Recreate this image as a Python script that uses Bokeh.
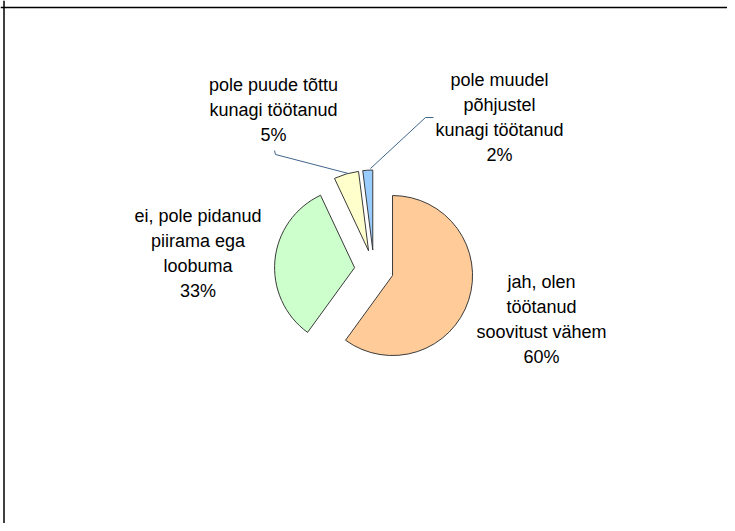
import numpy as np
from bokeh.plotting import figure
from bokeh.models import ColumnDataSource, Range1d, Span
from bokeh.core.properties import value
from bokeh.embed import file_html
from bokeh.resources import INLINE

# ---- data ----
categories = [
    "jah, olen\ntöötanud\nsoovitust vähem",
    "ei, pole pidanud\npiirama ega\nloobuma",
    "pole puude tõttu\nkunagi töötanud",
    "pole muudel\npõhjustel\nkunagi töötanud",
]
shares = [60, 33, 5, 2]
colors = ["#FFCC99", "#CCFFCC", "#FFFFCC", "#99CCFF"]

# ---- layout ----
W, H = 727, 523


def px(x):
    return x


def py(y):
    return H - y


p = figure(width=W, height=H, x_range=Range1d(0, W), y_range=Range1d(0, H),
           output_backend="svg", toolbar_location=None, min_border=0,
           x_axis_location=None, y_axis_location=None, outline_line_color=None)
p.xgrid.visible = False
p.ygrid.visible = False
p.background_fill_color = "white"
p.border_fill_color = "white"

cx, cy = px(373.5), py(269)
R = 80
explode = 19.5

frac = np.array(shares, dtype=float) / sum(shares)
cum = np.concatenate([[0.0], np.cumsum(frac)])
start = np.pi / 2 - cum[1:] * 2 * np.pi
end = np.pi / 2 - cum[:-1] * 2 * np.pi
mid = (start + end) / 2
src = ColumnDataSource(dict(
    x=cx + explode * np.cos(mid),
    y=cy + explode * np.sin(mid),
    start=start, end=end, color=colors,
))
p.wedge(x="x", y="y", radius=R, start_angle="start", end_angle="end",
        direction="anticlock", fill_color="color", line_color="#3a3a3a",
        line_width=1, source=src)

# labels
label_pos = [(541, 319), (197.5, 252.5), (273, 109.5), (499, 116.5)]
texts = [f"{c}\n{v}%" for c, v in zip(categories, shares)]
p.text(x=[px(a) for a, b in label_pos], y=[py(b) for a, b in label_pos],
       text=texts, text_font=value("Liberation Sans"), text_font_size="18px",
       text_align="center", text_baseline="middle", text_line_height=1.25,
       text_color="#000000")

# leader lines
lead_col = "#41668c"
p.line([px(274), px(275), px(348)], [py(150), py(154), py(173)],
       line_color=lead_col, line_width=1)
p.line([px(370), px(425), px(433)], [py(168), py(117), py(117)],
       line_color=lead_col, line_width=1)

# frame border (left and top)
p.add_layout(Span(location=px(3.5), dimension="height", line_color="black", line_width=1.5))
p.add_layout(Span(location=py(7), dimension="width", line_color="black", line_width=1.5))

open("out.html", "w").write(file_html(p, INLINE))
